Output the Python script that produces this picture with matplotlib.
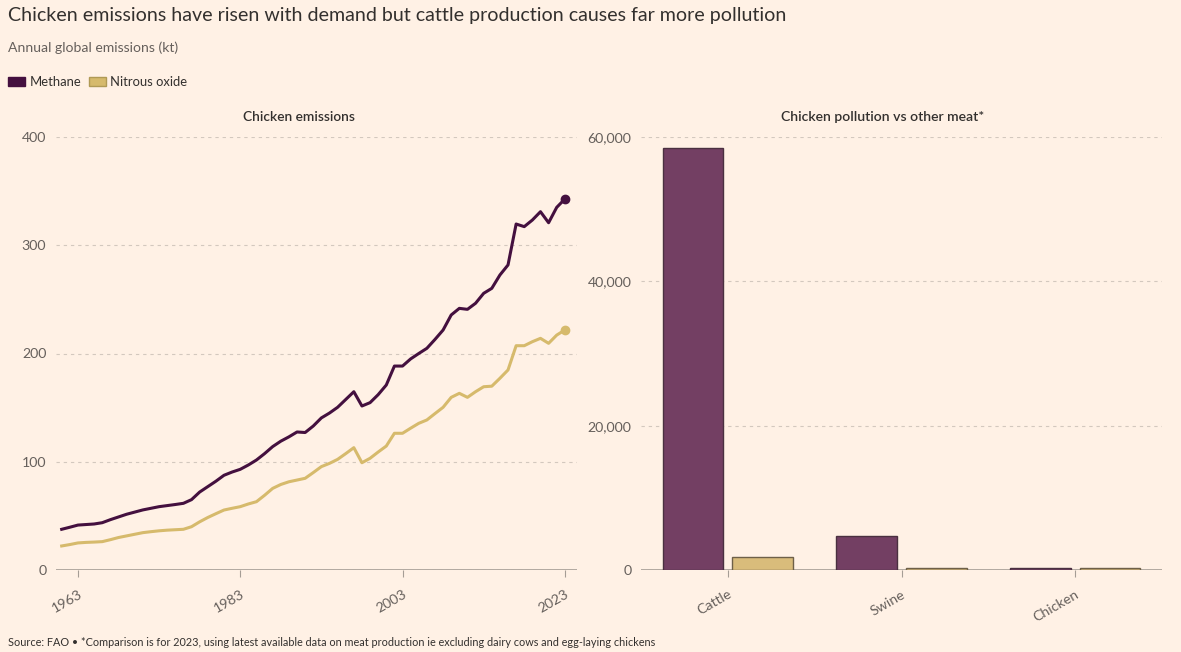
import matplotlib
matplotlib.use("Agg")
import matplotlib.pyplot as plt
from matplotlib.patches import Patch
import numpy as np

plt.rcParams['font.family'] = ['Lato', 'DejaVu Sans']

# ---------------- data ----------------
years = list(range(1961, 2024))
methane = [37.6, 39.5, 41.5, 42.0, 42.5, 43.7, 46.5, 49.0, 51.5, 53.5,
           55.5, 57.0, 58.5, 59.5, 60.5, 61.6, 65.0, 72.0, 77.0, 82.0,
           87.5, 90.5, 93.0, 97.0, 101.6, 107.5, 114.0, 119.0, 123.0, 127.5,
           127.0, 133.0, 140.5, 145.0, 150.3, 157.5, 164.7, 151.5, 154.6, 162.0,
           170.9, 188.4, 188.4, 195.0, 200.0, 204.8, 213.0, 221.7, 235.6, 241.7,
           240.8, 246.4, 255.6, 260.2, 272.5, 281.8, 319.6, 317.2, 323.3, 331.0,
           320.8, 335.0, 342.7]
nitrous = [22.2, 23.5, 25.0, 25.5, 25.8, 26.2, 28.0, 30.0, 31.5, 33.0,
           34.5, 35.4, 36.2, 36.8, 37.2, 37.6, 40.0, 44.5, 48.5, 52.0,
           55.4, 57.0, 58.5, 61.0, 63.1, 69.0, 75.4, 79.0, 81.5, 83.1,
           84.7, 90.0, 95.5, 98.5, 102.2, 107.5, 113.0, 99.1, 103.2, 109.0,
           114.5, 126.3, 126.3, 131.0, 135.5, 138.6, 144.5, 150.3, 159.5, 163.2,
           159.5, 164.7, 169.3, 169.8, 177.1, 184.8, 207.2, 207.2, 210.9, 214.0,
           209.4, 217.0, 221.7]
line_ticks = [1963, 1983, 2003, 2023]
line_yticks = [0, 100, 200, 300, 400]

animals = ['Cattle', 'Swine', 'Chicken']
bar_methane = [58500, 4700, 343]
bar_nitrous = [1760, 260, 222]
bar_yticks = [0, 20000, 40000, 60000]

# ---------------- style ----------------
BG = '#FFF1E5'
C_METH_LINE = '#44103F'
C_N2O_LINE = '#D6BA6C'
C_METH_BAR = '#733F63'
C_N2O_BAR = '#D9BC7B'
TXT = '#33302E'
TICK = '#66605C'
GRID = '#D3C8BE'

W, H = 1181, 652
fig = plt.figure(figsize=(W / 100, H / 100), dpi=100, facecolor=BG)

def fx(px):
    return px / W

def fy(py):
    return 1 - py / H

axl = fig.add_axes([fx(56), fy(570), fx(577 - 56), fy(137) - fy(570)])
axr = fig.add_axes([fx(641), fy(570), fx(1162 - 641), fy(137) - fy(570)])

for ax in (axl, axr):
    ax.set_facecolor(BG)
    for s in ax.spines.values():
        s.set_visible(False)
    ax.tick_params(axis='y', length=0, pad=7, labelsize=10.2, labelcolor=TICK)
    ax.tick_params(axis='x', length=5, width=0.8, color='#A59D95', pad=8,
                   labelsize=10.2, labelcolor=TICK)
    ax.set_axisbelow(True)

# ---- line chart ----
axl.plot(years, methane, color=C_METH_LINE, lw=2.2, solid_joinstyle='round', zorder=3)
axl.plot(years, nitrous, color=C_N2O_LINE, lw=2.2, solid_joinstyle='round', zorder=3)
axl.plot([years[-1]], [methane[-1]], 'o', color=C_METH_LINE, ms=6, zorder=4)
axl.plot([years[-1]], [nitrous[-1]], 'o', color=C_N2O_LINE, ms=6, zorder=4)
axl.set_xlim(1960.3, 2024.5)
axl.set_ylim(0, 400)
axl.set_yticks(line_yticks)
axl.set_yticklabels([f'{v:,}' for v in line_yticks])
axl.set_xticks(line_ticks)
axl.set_xticklabels([str(t) for t in line_ticks], rotation=30, ha='right',
                    rotation_mode='anchor')

# ---- bar chart ----
x = np.arange(len(animals))
bw = 0.35
axr.bar(x - 0.2, bar_methane, width=bw, color=C_METH_BAR, edgecolor='#4A3040',
        linewidth=1.0, zorder=3)
axr.bar(x + 0.2, bar_nitrous, width=bw, color=C_N2O_BAR, edgecolor='#6E6048',
        linewidth=1.0, zorder=3)
axr.set_xlim(-0.5, 2.5)
axr.set_ylim(0, 60000)
axr.set_yticks(bar_yticks)
axr.set_yticklabels([f'{v:,}' for v in bar_yticks])
axr.set_xticks(x)
axr.set_xticklabels(animals, rotation=30, ha='right', rotation_mode='anchor')

for ax in (axl, axr):
    ax.yaxis.grid(True, color=GRID, linestyle=(0, (3, 3.5)), linewidth=0.8)
    ax.xaxis.grid(False)
    ax.axhline(0, color='#A59D95', lw=1.2, zorder=2)

# ---- texts ----
fig.text(fx(8), fy(16), 'Chicken emissions have risen with demand but cattle production causes far more pollution',
         fontsize=14.1, color=TXT, ha='left', va='center')
fig.text(fx(8), fy(48), 'Annual global emissions (kt)', fontsize=10.1, color=TICK,
         ha='left', va='center')
fig.text(fx(299), fy(117), 'Chicken emissions', fontsize=9.9, color=TXT,
         ha='center', va='center', fontweight='semibold')
fig.text(fx(883), fy(117), 'Chicken pollution vs other meat*', fontsize=10.1, color=TXT,
         ha='center', va='center', fontweight='semibold')
fig.text(fx(8), fy(642), 'Source: FAO \u2022 *Comparison is for 2023, using latest available data on meat production ie excluding dairy cows and egg-laying chickens',
         fontsize=7.8, color=TXT, ha='left', va='center')

handles = [Patch(facecolor=C_METH_LINE, edgecolor=C_METH_LINE),
           Patch(facecolor=C_N2O_LINE, edgecolor='#B09A55')]
fig.legend(handles, ['Methane', 'Nitrous oxide'], loc='center left',
           bbox_to_anchor=(fx(-4), fy(82)), ncol=2, frameon=False,
           fontsize=9.4, handlelength=1.3, handleheight=0.65,
           handletextpad=0.35, columnspacing=0.6, labelcolor=TXT)

fig.savefig('out.png', dpi=100, facecolor=BG)
